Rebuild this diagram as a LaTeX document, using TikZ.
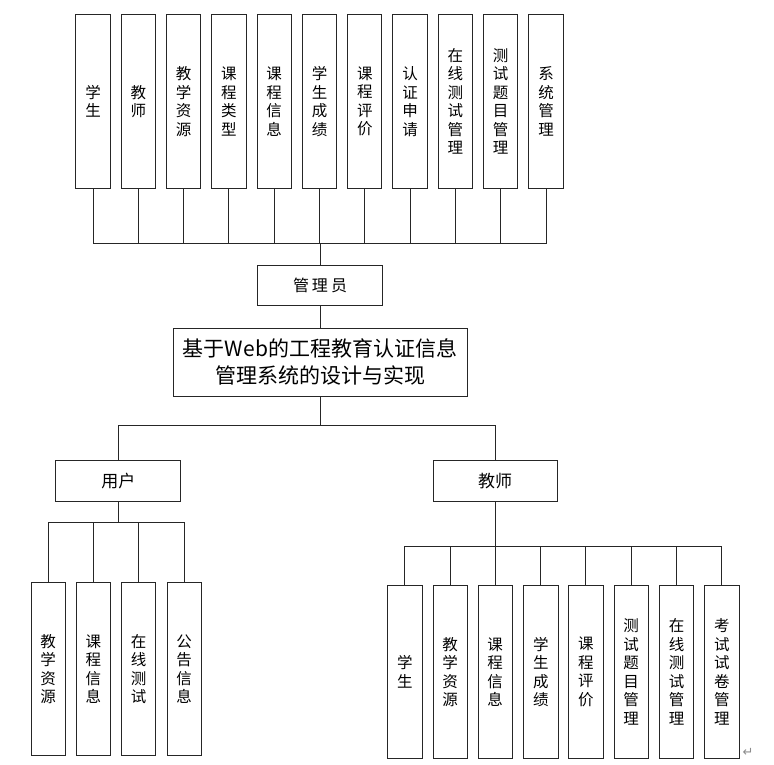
\documentclass[tikz,border=0pt]{standalone}
\usepackage{fontspec}
\newfontfamily\cjk{Noto Sans CJK SC}
\newfontfamily\symfont{DejaVu Sans}
\begin{document}
\begin{tikzpicture}[x=1pt,y=-1pt,line width=1pt,
  vbox/.style={draw=black!85,minimum width=34.3pt,minimum height=173pt,inner sep=0pt,align=center,font=\cjk\fontsize{15.5}{18.5}\selectfont},
  hbox/.style={draw=black!85,inner sep=0pt,align=center,font=\cjk\fontsize{17}{20}\selectfont},
  conn/.style={draw=black!85,line width=1pt}]
\useasboundingbox (0,0) rectangle (774,765);
% top row
\foreach \i/\t in {0/{学\\生},1/{教\\师},2/{教\\学\\资\\源},3/{课\\程\\类\\型},4/{课\\程\\信\\息},5/{学\\生\\成\\绩},6/{课\\程\\评\\价},7/{认\\证\\申\\请},8/{在\\线\\测\\试\\管\\理},9/{测\\试\\题\\目\\管\\理},10/{系\\统\\管\\理}}{
  \node[vbox] (t\i) at ({93+45.3*\i},101.5) {\t};
}
\node[hbox,minimum width=125pt,minimum height=40pt,font=\cjk\fontsize{16}{20}\selectfont] (admin) at (320,285) {管\hspace{3pt}理\hspace{3pt}员};
\coordinate (tbus) at (320,243);
\foreach \i in {0,...,10}{ \draw[conn] (t\i.south) |- (tbus); }
\draw[conn] (tbus) -- (admin.north);
% main
\node[hbox,minimum width=294pt,minimum height=68pt,font=\cjk\fontsize{21}{26.3}\selectfont] (main) at (320,362) {基于Web的工程教育认证信息\\管理系统的设计与实现};
\draw[conn] (admin.south) -- (main.north);
\coordinate (mbus) at (320,425);
\node[hbox,minimum width=124.7pt,minimum height=40.3pt] (user) at (118.3,481) {用户};
\node[hbox,minimum width=124.3pt,minimum height=40.3pt] (teacher) at (495.2,481) {教师};
\draw[conn] (main.south) -- (mbus);
\draw[conn] (mbus) -| (user.north);
\draw[conn] (mbus) -| (teacher.north);
% user children
\coordinate (ubus) at (118.3,522.3);
\draw[conn] (user.south) -- (ubus);
\foreach \i/\x/\t in {0/48.2/{教\\学\\资\\源},1/93.3/{课\\程\\信\\息},2/138.7/{在\\线\\测\\试},3/184/{公\\告\\信\\息}}{
  \node[vbox,minimum width=34pt,minimum height=172.7pt] (u\i) at (\x,669.3) {\t};
  \draw[conn] (ubus) -| (u\i.north);
}
% teacher children
\coordinate (cbus) at (495.2,546.7);
\draw[conn] (teacher.south) -- (cbus);
\foreach \i/\x/\t in {0/404.9/{学\\生},1/450.2/{教\\学\\资\\源},2/495.2/{课\\程\\信\\息},3/540.9/{学\\生\\成\\绩},4/585.9/{课\\程\\评\\价},5/631.2/{测\\试\\题\\目\\管\\理},6/676.5/{在\\线\\测\\试\\管\\理},7/721.9/{考\\试\\试\\卷\\管\\理}}{
  \node[vbox,minimum height=172.6pt] (c\i) at (\x,672) {\t};
  \draw[conn] (cbus) -| (c\i.north);
}
\node[text=black!45,font=\symfont\fontsize{13}{13}\selectfont,inner sep=0pt] (ret) at (748,752) {↵};
\end{tikzpicture}
\end{document}
